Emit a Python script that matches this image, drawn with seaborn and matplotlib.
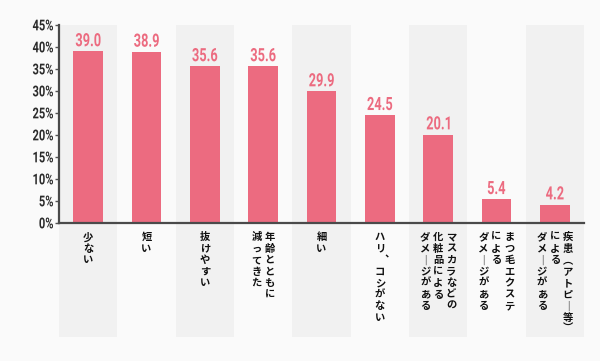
import matplotlib
matplotlib.use("Agg")
import matplotlib.pyplot as plt
import matplotlib.transforms as mtransforms
from matplotlib.patches import Rectangle, PathPatch
from matplotlib.textpath import TextPath
from matplotlib.font_manager import FontProperties
import pandas as pd
import seaborn as sns

# data
categories = [
    "少ない",
    "短い",
    "抜けやすい",
    "年齢とともに\n減ってきた",
    "細い",
    "ハリ、コシがない",
    "マスカラなどの\n化粧品による\nダメージがある",
    "まつ毛エクステ\nによる\nダメージがある",
    "疾患(アトピー等)\nによる\nダメージがある",
]
values = [39.0, 38.9, 35.6, 35.6, 29.9, 24.5, 20.1, 5.4, 4.2]
y_ticks = [0, 5, 10, 15, 20, 25, 30, 35, 40, 45]

BAR = "#EC6B80"
BG = "#FAFAFA"
BAND = "#F1F1F1"
JP = ["Noto Sans CJK JP", "DejaVu Sans"]

# vertical writing forms
VERT = {"ー": "｜", "、": "︑", "(": "︵", ")": "︶"}


def narrow_text(ax, s, x, y, base, em_px, sx, dx=0, dy=0, ha="center", va="bottom",
                color="k", weight="normal"):
    """Draw a horizontally squeezed string (no condensed font is installed)."""
    prop = FontProperties(family="Roboto", weight=weight)
    tp = TextPath((0, 0), s, size=1, prop=prop)
    ext = tp.get_extents()
    ox = {"center": -(ext.x0 + ext.x1) / 2, "right": -ext.x1, "left": -ext.x0}[ha]
    oy = {"bottom": -ext.y0, "center": -(ext.y0 + ext.y1) / 2, "top": -ext.y1}[va]
    tr = (mtransforms.Affine2D().translate(ox, oy).scale(em_px * sx, em_px).translate(dx, dy)
          + mtransforms.ScaledTranslation(x, y, base))
    ax.add_artist(PathPatch(tp, transform=tr, facecolor=color, edgecolor="none",
                            clip_on=False, zorder=6))


sns.set_theme(style="white")
plt.rcParams["font.family"] = JP

df = pd.DataFrame({"cat": categories, "val": values})

fig = plt.figure(figsize=(6, 3.61), dpi=100, facecolor=BG)
ax = fig.add_axes([0.0983, 0.3823, 0.875, 0.5484])
ax.set_facecolor("none")

sns.barplot(data=df, x="cat", y="val", color=BAR, saturation=1, width=0.51,
            linewidth=0, ax=ax, zorder=3)

# alternating background bands, running down through the label area
trans = mtransforms.blended_transform_factory(ax.transData, ax.transAxes)
for i in range(0, len(categories), 2):
    ax.add_patch(Rectangle((i - 0.5, -0.575), 1.0, 1.575, transform=trans,
                           facecolor=BAND, edgecolor="none", clip_on=False, zorder=0))

ax.set_xlim(-0.5, len(categories) - 0.5)
ax.set_ylim(0, 45)
ax.set_yticks(y_ticks)
ax.set_yticklabels([])
ax.tick_params(axis="y", length=3, width=1, color="#555555", pad=2, left=True)
ax.set_xticks([])
ax.set_xlabel("")
ax.set_ylabel("")
for s in ["top", "right"]:
    ax.spines[s].set_visible(False)
for s in ["left", "bottom"]:
    ax.spines[s].set_color("#4a4a4a")
    ax.spines[s].set_linewidth(1.6)
    ax.spines[s].set_zorder(5)

# y tick labels
ytrans = mtransforms.blended_transform_factory(ax.transAxes, ax.transData)
for t in y_ticks:
    narrow_text(ax, f"{t}%", 0, t, ytrans, em_px=15.0, sx=0.74, dx=-6,
                ha="right", va="center", color="#2a2a2a", weight="bold")

# value labels
for i, v in enumerate(values):
    narrow_text(ax, f"{v:.1f}", i, v, ax.transData, em_px=18.3, sx=0.70, dy=5,
                ha="center", va="bottom", color=BAR, weight="bold")

# vertical (tategaki) category labels, columns read right to left
pitch = 8.3
colgap = 9.3
for i, lab in enumerate(categories):
    cols = lab.split("\n")
    n = len(cols)
    for j, col in enumerate(cols):
        off = ((n - 1) / 2 - j) * colgap
        for k, ch in enumerate(col):
            shift = 2.5 if ch == "、" else 0
            ax.annotate(VERT.get(ch, ch), xy=(i, 0), xycoords=trans,
                        xytext=(off + shift, -6.5 - k * pitch), textcoords="offset points",
                        ha="center", va="top", fontsize=7.4, color="#111111",
                        fontweight="bold", family=JP, annotation_clip=False)

fig.savefig("out.png", dpi=100, facecolor=BG)
